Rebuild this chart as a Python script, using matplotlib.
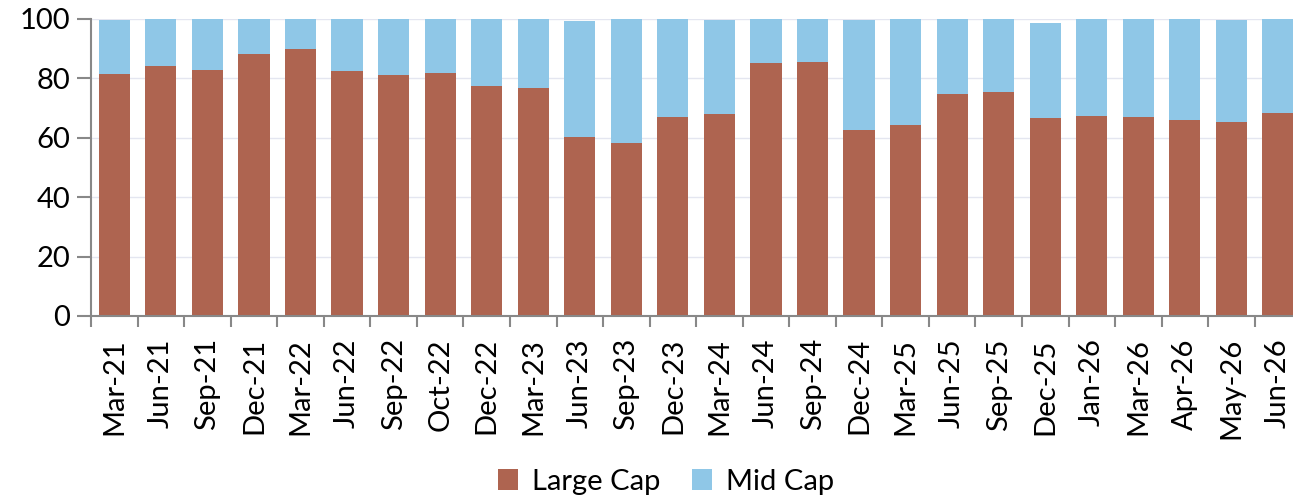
import numpy as np
import matplotlib
matplotlib.use("Agg")
import matplotlib.pyplot as plt

# quarters
labels = ['Mar-21', 'Jun-21', 'Sep-21', 'Dec-21', 'Mar-22', 'Jun-22', 'Sep-22', 'Oct-22',
          'Dec-22', 'Mar-23', 'Jun-23', 'Sep-23', 'Dec-23', 'Mar-24', 'Jun-24', 'Sep-24',
          'Dec-24', 'Mar-25', 'Jun-25', 'Sep-25', 'Dec-25', 'Jan-26', 'Mar-26', 'Apr-26',
          'May-26', 'Jun-26']
large_cap = [81.5, 84.1, 82.7, 88.3, 89.9, 82.5, 81.1, 81.7,
             77.4, 76.7, 60.3, 58.1, 67.0, 68.1, 85.2, 85.4,
             62.6, 64.3, 74.7, 75.4, 66.7, 67.2, 67.0, 66.0,
             65.3, 68.4]
total = [99.7, 100, 100, 100, 100, 100, 100, 100,
         100, 99.8, 99.4, 100, 100, 99.6, 100, 100,
         99.7, 100, 100, 100, 98.7, 100, 100, 100,
         99.6, 100]
mid_cap = [t - l for t, l in zip(total, large_cap)]

plt.rcParams['font.family'] = ['Lato', 'DejaVu Sans']

fig = plt.figure(figsize=(12.93, 4.96), dpi=100)
ax = fig.add_axes([0.0704, 0.363, 0.936, 0.599])

x = np.arange(len(labels))
ax.bar(x, large_cap, width=0.67, color='#AE6450', label='Large Cap', zorder=2)
ax.bar(x, mid_cap, width=0.67, bottom=large_cap, color='#8FC7E7', label='Mid Cap', zorder=2)

ax.set_xlim(-0.5, len(labels) - 0.5)
ax.set_ylim(0, 100)
ax.set_yticks(range(0, 101, 20))
ax.grid(axis='y', color='#E4E6F0', linewidth=1, zorder=0)

ax.set_xticks(x)
ax.set_xticklabels(labels, rotation=90, fontsize=21)
ax.set_xticks(np.arange(-0.5, len(labels), 1), minor=True)
ax.tick_params(axis='x', which='major', length=0, pad=16)
ax.tick_params(axis='x', which='minor', length=8, width=1.5, color='#888888')
ax.tick_params(axis='y', length=10, width=1.5, color='#888888', labelsize=21, pad=5)

for s in ['top', 'right']:
    ax.spines[s].set_visible(False)
for s in ['left', 'bottom']:
    ax.spines[s].set_color('#888888')
    ax.spines[s].set_linewidth(1.5)

fig.legend(loc='lower center', bbox_to_anchor=(0.515, -0.05), ncol=2, frameon=False,
           fontsize=21, handlelength=0.7, handleheight=0.7, columnspacing=1.1, handletextpad=0.45)

fig.savefig('out.png', dpi=100)
